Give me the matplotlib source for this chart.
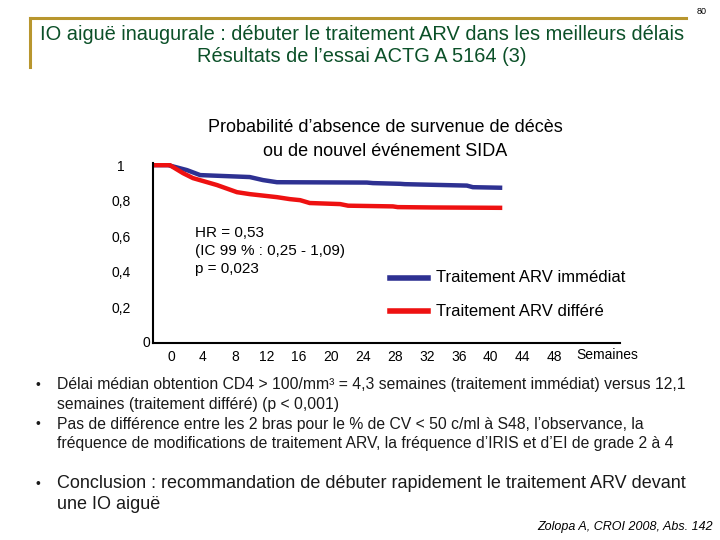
import matplotlib
matplotlib.use("Agg")
import matplotlib.pyplot as plt
import matplotlib.transforms as mtransforms

plt.rcParams["font.family"] = ["Liberation Sans", "DejaVu Sans"]

# curves (weeks, probability without death / AIDS event)
weeks_immediate = [0, 1.9, 4.25, 5.9, 12.1, 13.75, 15.5, 26.75, 27.5, 30.9, 31.5, 39.25, 40.0, 43.4]
surv_immediate = [1.0, 1.0, 0.972, 0.944, 0.933, 0.916, 0.904, 0.902, 0.899, 0.895, 0.893, 0.885, 0.876, 0.873]

weeks_deferred = [0, 2.1, 3.75, 5.0, 8.0, 10.5, 12.1, 15.5, 17.1, 18.4, 19.6, 23.4, 24.4, 30.0, 30.6, 35.0, 43.4]
surv_deferred = [1.0, 1.0, 0.955, 0.927, 0.888, 0.848, 0.837, 0.82, 0.809, 0.803, 0.787, 0.781, 0.772, 0.768,
                 0.764, 0.762, 0.76]

x_ticks = [0, 4, 8, 12, 16, 20, 24, 28, 32, 36, 40, 44, 48]
y_ticks = [0.2, 0.4, 0.6, 0.8, 1.0]
y_labels = ["0,2", "0,4", "0,6", "0,8", "1"]

BLUE = "#2E3192"
RED = "#EE1111"
GOLD = "#B8962E"
GREEN = "#0B5028"
TEXT = "#1a1a1a"

fig = plt.figure(figsize=(7.2, 5.4), dpi=100, facecolor="white")

# slide title with golden frame
fig.add_artist(plt.Line2D([30 / 720, 686 / 720], [1 - 18 / 540, 1 - 18 / 540], color=GOLD, lw=2.2))
fig.add_artist(plt.Line2D([30 / 720, 30 / 720], [1 - 18 / 540, 1 - 67 / 540], color=GOLD, lw=2.2))
fig.text(362 / 720, 1 - 35 / 540, "IO aiguë inaugurale : débuter le traitement ARV dans les meilleurs délais",
         color=GREEN, fontsize=14.4, ha="center", va="center")
fig.text(362 / 720, 1 - 57 / 540, "Résultats de l\u2019essai ACTG A 5164 (3)",
         color=GREEN, fontsize=14.4, ha="center", va="center")
fig.text(702 / 720, 1 - 12 / 540, "80", fontsize=6.5, ha="center", va="center")

# chart
ax = fig.add_axes([153 / 720, 197 / 540, 467 / 720, 180 / 540])
ax.plot(weeks_immediate, surv_immediate, color=BLUE, lw=3.2, solid_joinstyle="miter")
ax.plot(weeks_deferred, surv_deferred, color=RED, lw=3.2, solid_joinstyle="miter")
ax.set_xlim(0, 58.4)
ax.set_ylim(0, 1.012)

for s in ["top", "right"]:
    ax.spines[s].set_visible(False)
for s in ["left", "bottom"]:
    ax.spines[s].set_linewidth(1.5)

ax.set_yticks(y_ticks)
ax.set_yticklabels(y_labels, fontsize=10, ha="center")
ax.tick_params(axis="y", length=0, pad=23)
ax.set_xticks(x_ticks)
ax.set_xticklabels([str(w) for w in x_ticks], fontsize=10)
ax.tick_params(axis="x", length=0, pad=5)
offset = mtransforms.ScaledTranslation(0.18, 0, fig.dpi_scale_trans)
for lab in ax.get_xticklabels():
    lab.set_transform(lab.get_transform() + offset)
ax.text(-0.005, 0, "0", transform=ax.get_yaxis_transform(), fontsize=10, ha="right", va="center")
ax.text(576 / 720, 1 - 355 / 540, "Semaines", transform=fig.transFigure, fontsize=10, va="center")

fig.text(385 / 720, 1 - 128 / 540, "Probabilité d\u2019absence de survenue de décès", fontsize=13,
         ha="center", va="center")
fig.text(385 / 720, 1 - 151 / 540, "ou de nouvel événement SIDA", fontsize=13, ha="center", va="center")

fig.text(195 / 720, 1 - 251 / 540, "HR = 0,53\n(IC 99 % : 0,25 - 1,09)\np = 0,023", fontsize=11,
         ha="left", va="center", linespacing=1.4)

# legend
fig.add_artist(plt.Line2D([390 / 720, 428 / 720], [1 - 278 / 540] * 2, color=BLUE, lw=4))
fig.add_artist(plt.Line2D([390 / 720, 428 / 720], [1 - 311 / 540] * 2, color=RED, lw=4))
fig.text(436 / 720, 1 - 278 / 540, "Traitement ARV immédiat", fontsize=12, va="center")
fig.text(436 / 720, 1 - 311 / 540, "Traitement ARV différé", fontsize=12, va="center")

# bullets (y of first line centre, text, font size)
bullets = [
    (385, "Délai médian obtention CD4 > 100/mm³ = 4,3 semaines (traitement immédiat) versus 12,1\n"
          "semaines (traitement différé) (p < 0,001)", 11.3),
    (424, "Pas de différence entre les 2 bras pour le % de CV < 50 c/ml à S48, l\u2019observance, la\n"
          "fréquence de modifications de traitement ARV, la fréquence d\u2019IRIS et d\u2019EI de grade 2 à 4", 11.3),
    (484, "Conclusion : recommandation de débuter rapidement le traitement ARV devant\nune IO aiguë", 13),
]
for y, txt, fs in bullets:
    fig.text(35 / 720, 1 - y / 540, "\u2022", fontsize=10, va="center", color=TEXT)
    lines = txt.split("\n")
    step = 19.5 if fs < 12 else 20.5
    for i, line in enumerate(lines):
        fig.text(57 / 720, 1 - (y + i * step) / 540, line, fontsize=fs, va="center", color=TEXT)

fig.text(713 / 720, 1 - 527 / 540, "Zolopa A, CROI 2008, Abs. 142", fontsize=9, style="italic",
         ha="right", va="center")

fig.savefig("out.png", dpi=100, facecolor="white")
